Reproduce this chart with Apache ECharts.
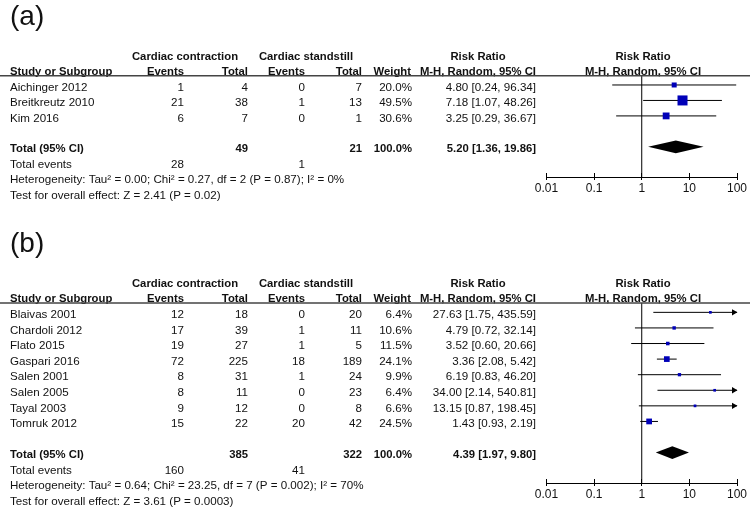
<!DOCTYPE html>
<html><head><meta charset="utf-8">
<script src="https://cdn.jsdelivr.net/npm/echarts@6/dist/echarts.min.js"></script>
<style>html,body{margin:0;padding:0;background:#fff}#c{width:750px;height:509px}</style>
</head><body><div id="c"></div>
<script>
// ---------- data ----------
const tickLabels = ['0.01', '0.1', '1', '10', '100'];

// panel (a)
const studiesA = ['Aichinger 2012', 'Breitkreutz 2010', 'Kim 2016'];
const eventsContrA = [1, 21, 6];
const totalContrA = [4, 38, 7];
const eventsStandA = [0, 1, 0];
const totalStandA = [7, 13, 1];
const weightA = [20.0, 49.5, 30.6];
const rrA = [4.80, 7.18, 3.25];
const loA = [0.24, 1.07, 0.29];
const hiA = [96.34, 48.26, 36.67];
const totalsA = [49, 21];
const totalEventsA = [28, 1];
const pooledA = [5.20, 1.36, 19.86];
const hetA = 'Heterogeneity: Tau\u00b2 = 0.00; Chi\u00b2 = 0.27, df = 2 (P = 0.87); I\u00b2 = 0%';
const testA = 'Test for overall effect: Z = 2.41 (P = 0.02)';

// panel (b)
const studiesB = ['Blaivas 2001', 'Chardoli 2012', 'Flato 2015', 'Gaspari 2016', 'Salen 2001', 'Salen 2005', 'Tayal 2003', 'Tomruk 2012'];
const eventsContrB = [12, 17, 19, 72, 8, 8, 9, 15];
const totalContrB = [18, 39, 27, 225, 31, 11, 12, 22];
const eventsStandB = [0, 1, 1, 18, 1, 0, 0, 20];
const totalStandB = [20, 11, 5, 189, 24, 23, 8, 42];
const weightB = [6.4, 10.6, 11.5, 24.1, 9.9, 6.4, 6.6, 24.5];
const rrB = [27.63, 4.79, 3.52, 3.36, 6.19, 34.00, 13.15, 1.43];
const loB = [1.75, 0.72, 0.60, 2.08, 0.83, 2.14, 0.87, 0.93];
const hiB = [435.59, 32.14, 20.66, 5.42, 46.20, 540.81, 198.45, 2.19];
const totalsB = [385, 322];
const totalEventsB = [160, 41];
const pooledB = [4.39, 1.97, 9.80];
const hetB = 'Heterogeneity: Tau\u00b2 = 0.64; Chi\u00b2 = 23.25, df = 7 (P = 0.002); I\u00b2 = 70%';
const testB = 'Test for overall effect: Z = 3.61 (P = 0.0003)';

// ---------- layout ----------
const FONT = '"Liberation Sans", Arial, Helvetica, sans-serif';
const COL = { name: 10, evC: 184, totC: 248, evS: 305, totS: 362, w: 412, rr: 536, headC: 185, headS: 306, headRR: 478, plot: 643 };
const TEXT_DY = 2.5;
const XMIN = 0.01, XMAX = 100;
const NORMAL_SIZE = 11.6, BOLD_SIZE = 11.3;

function fmt2(v) { return v.toFixed(2); }
function ciText(r, l, h) { return fmt2(r) + ' [' + fmt2(l) + ', ' + fmt2(h) + ']'; }

function buildPanel(label, studies, evC, totC, evS, totS, w, rr, lo, hi, totals, totEv, pooled, het, test) {
  const n = studies.length;
  const totalRow = n + 1;
  const T = (x, t, align, bold, size) => ({ x, t, align: align || 'right', bold: !!bold, size: size || (bold ? BOLD_SIZE : NORMAL_SIZE) });
  const table = [];
  table.push({ row: -4.55, cells: [T(10, label, 'left', false, 28)] });
  table.push({ row: -2, cells: [T(COL.headC, 'Cardiac contraction', 'center', true), T(COL.headS, 'Cardiac standstill', 'center', true), T(COL.headRR, 'Risk Ratio', 'center', true), T(COL.plot, 'Risk Ratio', 'center', true)] });
  table.push({ row: -1, cells: [T(COL.name, 'Study or Subgroup', 'left', true), T(COL.evC, 'Events', 'right', true), T(COL.totC, 'Total', 'right', true), T(COL.evS, 'Events', 'right', true), T(COL.totS, 'Total', 'right', true), T(COL.w - 1, 'Weight', 'right', true), T(COL.rr, 'M-H, Random, 95% CI', 'right', true), T(COL.plot, 'M-H, Random, 95% CI', 'center', true)] });
  table.push({ row: -0.6, line: true, cells: [] });
  for (let i = 0; i < n; i++) {
    table.push({ row: i, cells: [T(COL.name, studies[i], 'left'), T(COL.evC, String(evC[i])), T(COL.totC, String(totC[i])), T(COL.evS, String(evS[i])), T(COL.totS, String(totS[i])), T(COL.w, w[i].toFixed(1) + '%'), T(COL.rr, ciText(rr[i], lo[i], hi[i]))] });
  }
  table.push({ row: totalRow, cells: [T(COL.name, 'Total (95% CI)', 'left', true), T(COL.totC, String(totals[0]), 'right', true), T(COL.totS, String(totals[1]), 'right', true), T(COL.w, '100.0%', 'right', true), T(COL.rr, ciText(pooled[0], pooled[1], pooled[2]), 'right', true)] });
  table.push({ row: totalRow + 1, cells: [T(COL.name, 'Total events', 'left'), T(COL.evC, String(totEv[0])), T(COL.evS, String(totEv[1]))] });
  table.push({ row: totalRow + 2, cells: [T(COL.name, het, 'left')] });
  table.push({ row: totalRow + 3, cells: [T(COL.name, test, 'left')] });
  const forest = studies.map((s, i) => [rr[i], i, lo[i], hi[i], w[i]]);
  const diamond = [[pooled[0], totalRow, pooled[1], pooled[2]]];
  return { table, forest, diamond, totalRow, yMax: totalRow + 1.95 };
}

const panels = [
  buildPanel('(a)', studiesA, eventsContrA, totalContrA, eventsStandA, totalStandA, weightA, rrA, loA, hiA, totalsA, totalEventsA, pooledA, hetA, testA),
  buildPanel('(b)', studiesB, eventsContrB, totalContrB, eventsStandB, totalStandB, weightB, rrB, loB, hiB, totalsB, totalEventsB, pooledB, hetB, testB)
];
const gridPos = [{ top: 75.7, height: 101.3 }, { top: 303, height: 180 }];

const chart = echarts.init(document.getElementById('c'), null, { renderer: 'canvas' });

const grids = [], xAxes = [], yAxes = [], series = [];
panels.forEach((p, g) => {
  grids.push({ left: 546.5, width: 192.5, top: gridPos[g].top, height: gridPos[g].height, containLabel: false });
  const baseX = { type: 'log', logBase: 10, min: XMIN, max: XMAX, gridIndex: g, splitLine: { show: false }, minorTick: { show: false } };
  // main axis at bottom: line, labels, ticks pointing up
  xAxes.push(Object.assign({}, baseX, {
    position: 'bottom',
    axisLine: { show: true, onZero: false, lineStyle: { color: '#000', width: 1 } },
    axisTick: { show: true, inside: true, length: 4, lineStyle: { color: '#000', width: 1 } },
    axisLabel: { show: true, showMinLabel: true, showMaxLabel: true, margin: 6, fontSize: 12, color: '#111', fontFamily: FONT,
      formatter: v => tickLabels[Math.round(Math.log10(v)) + 2] }
  }));
  // helper axis moved onto the bottom line: ticks pointing down
  xAxes.push(Object.assign({}, baseX, {
    position: 'top', offset: -gridPos[g].height,
    axisLine: { show: false, onZero: false },
    axisTick: { show: true, inside: true, length: 3, lineStyle: { color: '#000', width: 1 } },
    axisLabel: { show: false }
  }));
  yAxes.push({ type: 'value', gridIndex: g, min: -0.6, max: p.yMax, inverse: true, show: false });
  const xi = g * 2;

  // table text
  series.push({
    type: 'custom', xAxisIndex: xi, yAxisIndex: g, clip: false, silent: true, z: 5,
    data: p.table.map(r => [1, r.row]),
    renderItem: (params, api) => {
      const def = p.table[params.dataIndex];
      const y0 = api.coord([1, api.value(1)])[1];
      if (def.line) {
        return { type: 'line', shape: { x1: 0, y1: y0, x2: 750, y2: y0 }, style: { stroke: '#444', lineWidth: 1.5 } };
      }
      return {
        type: 'group',
        children: def.cells.map(c => ({
          type: 'text', x: c.x, y: y0 + TEXT_DY,
          style: { text: c.t, fill: '#111', fontSize: c.size, fontFamily: FONT, fontWeight: c.bold ? 'bold' : 'normal', align: c.align, verticalAlign: 'middle' }
        }))
      };
    }
  });

  // vertical line of no effect
  series.push({
    type: 'line', xAxisIndex: xi, yAxisIndex: g, silent: true, showSymbol: false, z: 3,
    data: [[1, -0.6], [1, p.yMax]], lineStyle: { color: '#000', width: 1 }
  });

  // study CIs and squares
  series.push({
    type: 'custom', xAxisIndex: xi, yAxisIndex: g, clip: false, silent: true, z: 6,
    data: p.forest,
    renderItem: (params, api) => {
      const r = api.value(0), row = api.value(1), lo = api.value(2), hi = api.value(3), w = api.value(4);
      const yy = api.coord([1, row])[1];
      const x1 = api.coord([Math.max(lo, XMIN), row])[0];
      const x2 = api.coord([Math.min(hi, XMAX), row])[0];
      const xc = api.coord([r, row])[0];
      const s = 1.6 + 0.17 * w;
      const ch = [
        { type: 'line', shape: { x1: x1, y1: yy, x2: x2, y2: yy }, style: { stroke: '#000', lineWidth: 1 } }
      ];
      if (hi > XMAX) ch.push({ type: 'polygon', shape: { points: [[x2 + 0.5, yy], [x2 - 5, yy - 3.2], [x2 - 5, yy + 3.2]] }, style: { fill: '#000' } });
      if (lo < XMIN) ch.push({ type: 'polygon', shape: { points: [[x1 - 0.5, yy], [x1 + 5, yy - 3.2], [x1 + 5, yy + 3.2]] }, style: { fill: '#000' } });
      ch.push({ type: 'rect', shape: { x: xc - s / 2, y: yy - s / 2, width: s, height: s }, style: { fill: '#0000b8' } });
      return { type: 'group', children: ch };
    }
  });

  // pooled diamond
  series.push({
    type: 'custom', xAxisIndex: xi, yAxisIndex: g, clip: false, silent: true, z: 6,
    data: p.diamond,
    renderItem: (params, api) => {
      const r = api.value(0), row = api.value(1), lo = api.value(2), hi = api.value(3);
      const yy = api.coord([1, row])[1];
      const xl = api.coord([lo, row])[0], xr = api.coord([hi, row])[0], xc = api.coord([r, row])[0];
      return { type: 'polygon', shape: { points: [[xl, yy], [xc, yy - 6.3], [xr, yy], [xc, yy + 6.3]] }, style: { fill: '#000' } };
    }
  });
});

chart.setOption({
  backgroundColor: '#fff',
  animation: false,
  grid: grids,
  xAxis: xAxes,
  yAxis: yAxes,
  series: series
});
</script>
</body></html>
